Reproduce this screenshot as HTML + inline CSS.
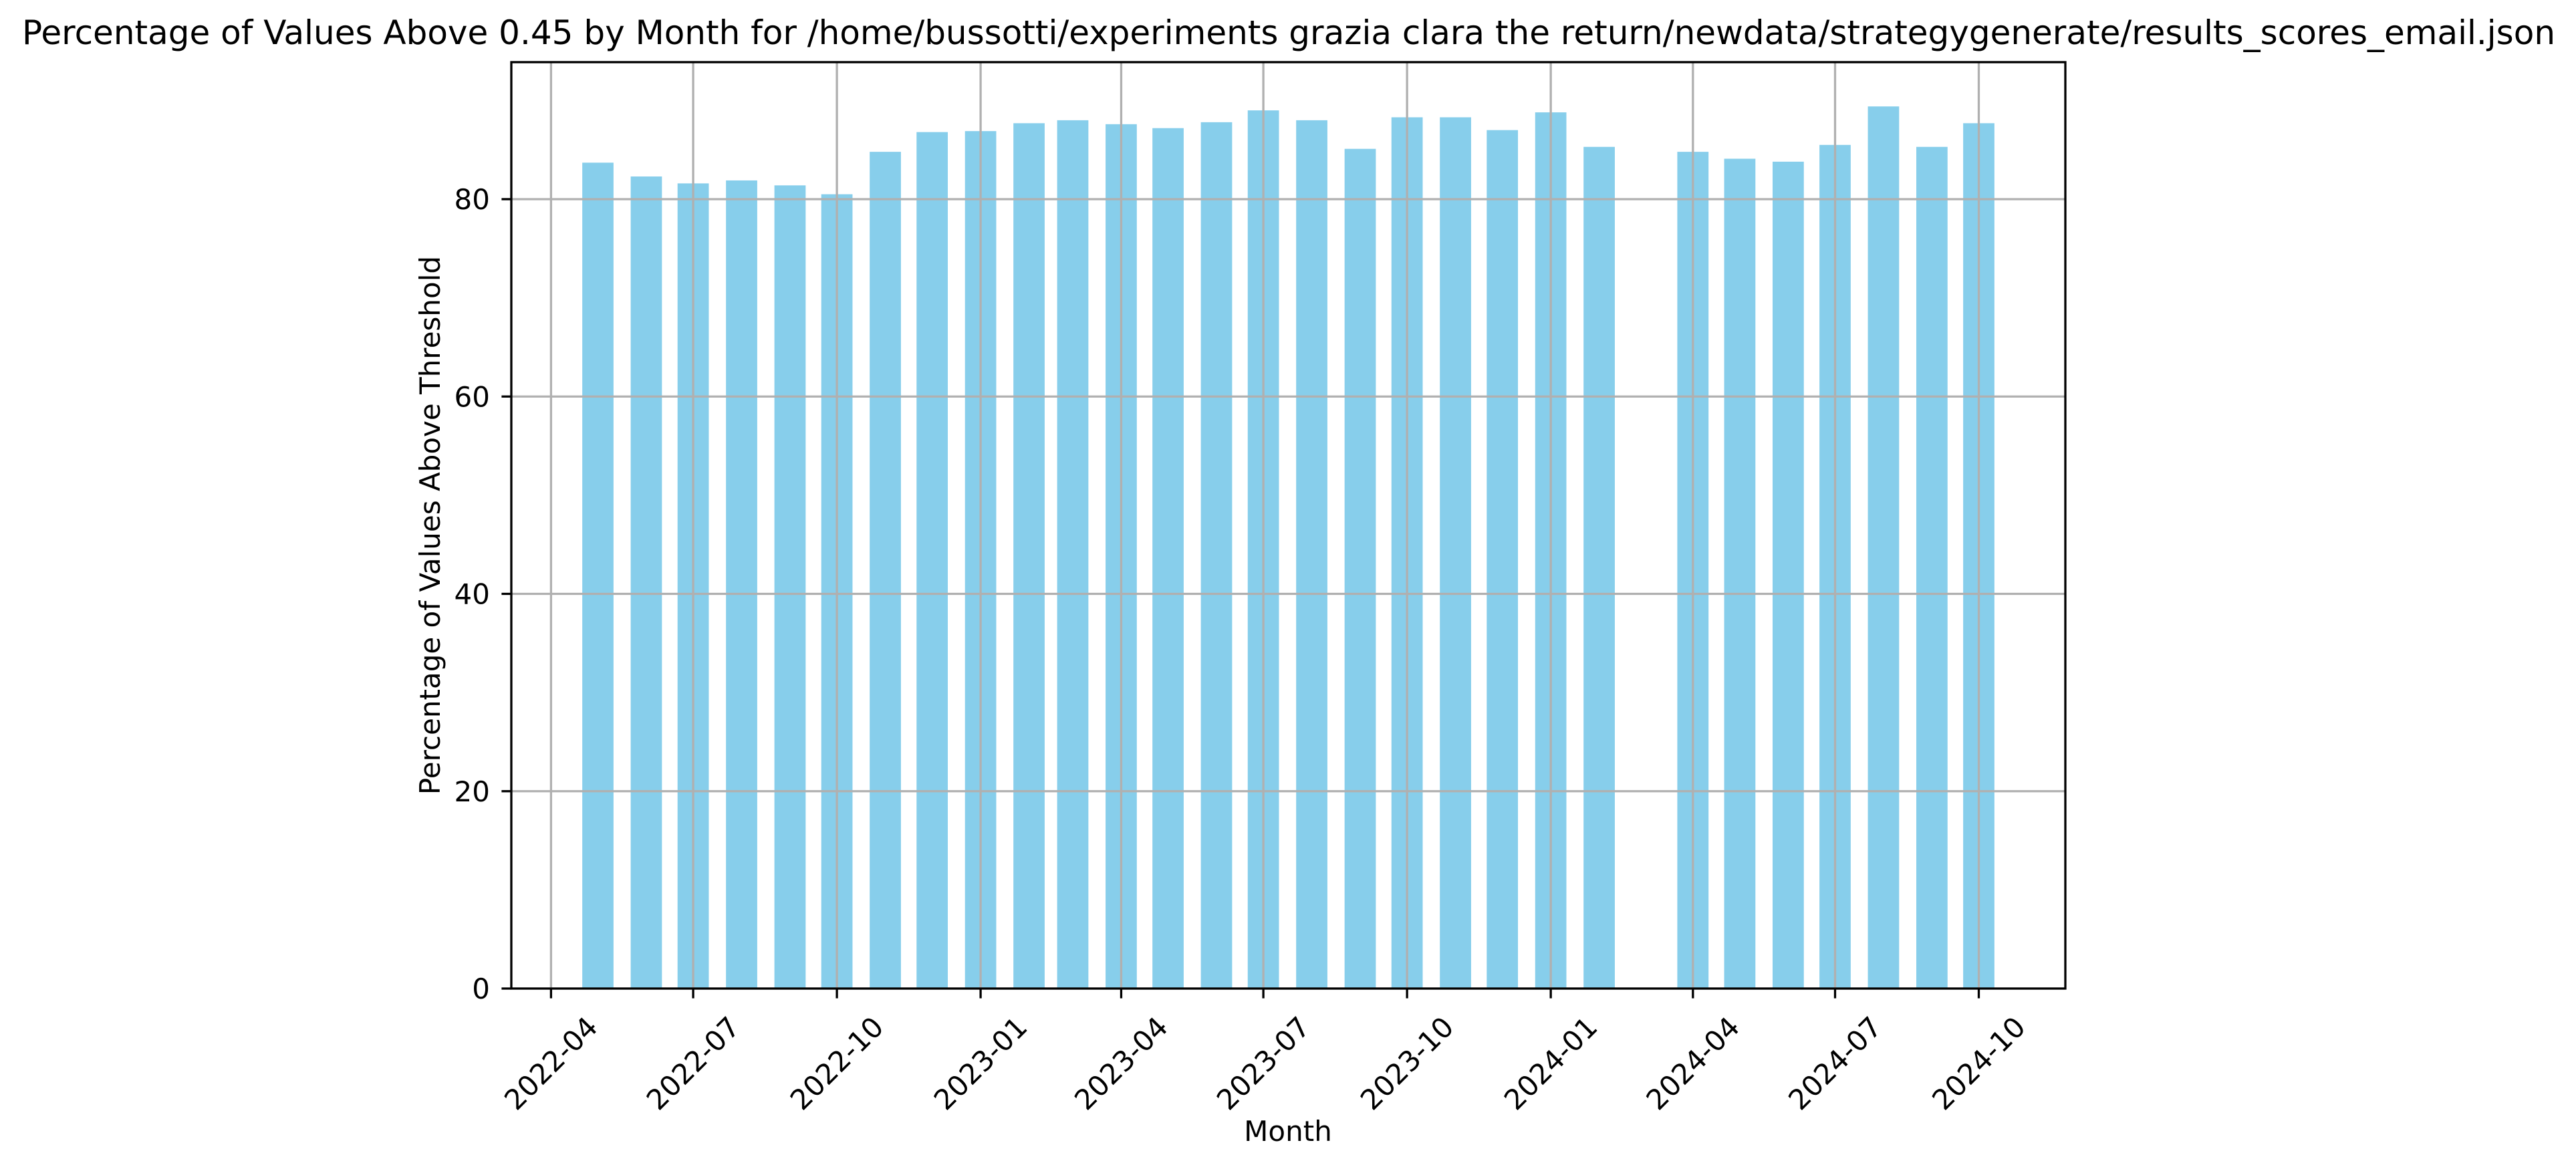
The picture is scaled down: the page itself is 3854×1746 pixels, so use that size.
<!DOCTYPE html>
<html><head><meta charset="utf-8"><style>
html,body{margin:0;padding:0;background:#fff;}
svg{display:block;font-family:"DejaVu Sans","Liberation Sans",sans-serif;}
</style></head><body>
<svg id="chart" width="3854" height="1746" viewBox="0 0 3854 1746" xmlns="http://www.w3.org/2000/svg">
<rect x="0" y="0" width="3854" height="1746" fill="#fff"/>
<text x="1928" y="66" font-size="50" text-anchor="middle" textLength="3790" lengthAdjust="spacingAndGlyphs">Percentage of Values Above 0.45 by Month for /home/bussotti/experiments grazia clara the return/newdata/strategygenerate/results_scores_email.json</text>
<g id="bars"></g>
<g id="grid"></g>
<g id="axes"></g>
<text x="1927" y="1707" font-size="42" text-anchor="middle">Month</text>
<text transform="translate(658,786) rotate(-90)" font-size="42" text-anchor="middle">Percentage of Values Above Threshold</text>
</svg>
<script>
const months = ["2022-05","2022-06","2022-07","2022-08","2022-09","2022-10","2022-11","2022-12","2023-01","2023-02","2023-03","2023-04","2023-05","2023-06","2023-07","2023-08","2023-09","2023-10","2023-11","2023-12","2024-01","2024-02","2024-04","2024-05","2024-06","2024-07","2024-08","2024-09","2024-10"];
const values = [83.7,82.3,81.6,81.9,81.4,80.5,84.8,86.8,86.9,87.7,88.0,87.6,87.2,87.8,89.0,88.0,85.1,88.3,88.3,87.0,88.8,85.3,84.8,84.1,83.8,85.5,89.4,85.3,87.7];
const xTickLabels = ["2022-04","2022-07","2022-10","2023-01","2023-04","2023-07","2023-10","2024-01","2024-04","2024-07","2024-10"];
const yTickLabels = [0,20,40,60,80];

const NS="http://www.w3.org/2000/svg";
const L=765,R=3090,T=93,B=1479;
const dayMs=86400000;
const d0=Date.UTC(2022,3,1);
const pxPerDay=(2960.5-824.4)/914;
function day(s){const p=s.split("-");return (Date.UTC(+p[0],+p[1]-1,1)-d0)/dayMs;}
function xScale(s){return 824.4+day(s)*pxPerDay;}
const yPer=(B-298)/80;
function yScale(v){return B-v*yPer;}
function mk(tag,attrs,parent){const e=document.createElementNS(NS,tag);for(const k in attrs)e.setAttribute(k,attrs[k]);parent.appendChild(e);return e;}
const grid=document.getElementById("grid"),bars=document.getElementById("bars"),axes=document.getElementById("axes");

xTickLabels.forEach(t=>{
  const x=xScale(t);
  const g=mk("line",{x1:x,x2:x,y1:T,y2:B,stroke:"#b0b0b0","stroke-width":3.3},grid);
  
  
  const tk=mk("line",{x1:x,x2:x,y1:B,y2:B+14.6,stroke:"#000","stroke-width":3.3},axes);
  
  
  const tx=mk("text",{transform:`translate(${x},1591) rotate(-45)`,"font-size":42,"text-anchor":"middle","dominant-baseline":"central"},axes);
  tx.textContent=t;
  
  
});
yTickLabels.forEach(v=>{
  const y=yScale(v);
  const g=mk("line",{x1:L,x2:R,y1:y,y2:y,stroke:"#b0b0b0","stroke-width":3.3},grid);
  
  
  const tk=mk("line",{x1:L-14.6,x2:L,y1:y,y2:y,stroke:"#000","stroke-width":3.3},axes);
  
  
  const tx=mk("text",{x:733,y:y+15,"font-size":42,"text-anchor":"end"},axes);
  tx.textContent=String(v);
  
  
});
const bw=20*pxPerDay;
months.forEach((m,i)=>{
  const x=xScale(m);
  const r=mk("rect",{x:x-bw/2,y:yScale(values[i]),width:bw,height:B-yScale(values[i]),fill:"#87ceeb"},bars);
  
  
});
const f=mk("rect",{x:L,y:T,width:R-L,height:B-T,fill:"none",stroke:"#000","stroke-width":3.3},axes);


</script>
</body></html>
